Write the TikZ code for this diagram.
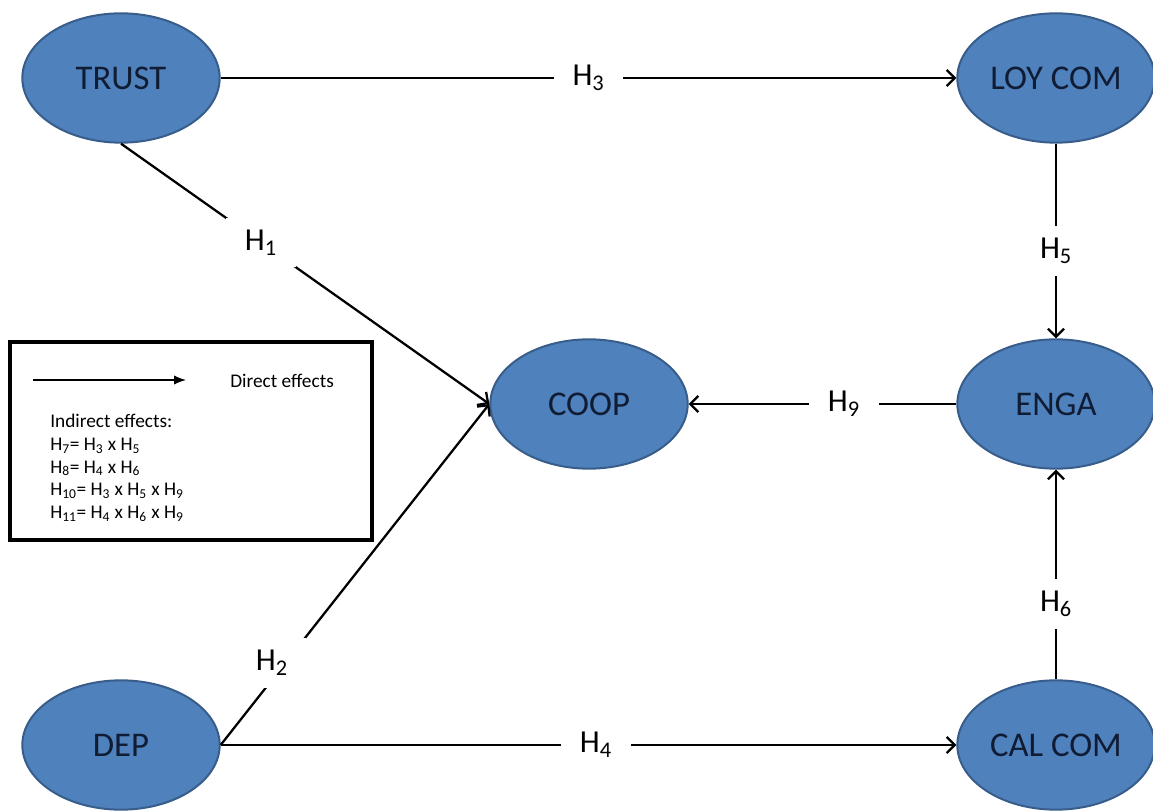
\documentclass[tikz,border=0pt]{standalone}
\usepackage{fontspec}
\setmainfont{Carlito}
\usepackage{tikz}
\usetikzlibrary{shapes.geometric}
\usetikzlibrary{arrows.meta}
\definecolor{cblue}{RGB}{79,129,189}
\definecolor{cline}{RGB}{56,93,138}
\definecolor{ctext}{RGB}{16,28,52}
\tikzstyle{construct}=[draw=cline,ellipse,fill=cblue,line width=1.5pt,minimum width=148pt,minimum height=97pt,inner sep=0pt,text=ctext,font=\fontsize{26}{30}\selectfont]
\tikzstyle{hyp}=[fill=white,inner xsep=14pt,inner ysep=9pt,font=\fontsize{24}{28}\selectfont]
\def\hH#1{H\textsubscript{#1}}

\begin{document}
\begin{tikzpicture}[x=0.75pt,y=-0.75pt,>={Straight Barb[length=6pt,width=12pt]}]
      \useasboundingbox (0,0) rectangle (1153,812);
      \node [construct] (TRUST) at (121,78) {TRUST};
      \node [construct] (LOY) at (1056,78) {LOY COM};
      \node [construct] (COOP) at (589,404) {COOP};
      \node [construct] (ENGA) at (1056,404) {ENGA};
      \node [construct] (DEP) at (121,745) {DEP};
      \node [construct] (CAL) at (1056,745) {CAL COM};

      \path [->, line width=1.7pt]
            (TRUST.east) edge node [hyp, pos=0.5] {\hH3} (LOY.west)
            (TRUST.south) edge node [hyp, pos=0.38] {\hH1} (COOP.west)
            (DEP.east) edge node [hyp, pos=0.24, xshift=-10pt] {\hH2} (COOP.west)
            (DEP.east) edge node [hyp, pos=0.51] {\hH4} (CAL.west)
            (LOY.south) edge node [hyp, pos=0.55] {\hH5} (ENGA.north)
            (CAL.north) edge node [hyp, pos=0.36] {\hH6} (ENGA.south)
            (ENGA.west) edge node [hyp, pos=0.42] {\hH9} (COOP.east);

      % legend
      \draw [line width=3pt] (10,342) rectangle (372,540);
      \coordinate (ks) at (33,380);
      \coordinate (ke) at (186,380);
      \draw [-{Latex[length=9pt,width=7pt]}, line width=1pt] (ks) -- (ke);
      \node [anchor=base west, inner sep=0pt, font=\fontsize{14.5}{17}\selectfont] (direct) at (230,388) {Direct effects};
      \node [anchor=north west, inner sep=0pt, align=left, font=\fontsize{14.5}{17}\selectfont] (indirect) at (50,414)
        {Indirect effects:\\
         \hH7= \hH3 x \hH5\\
         \hH8= \hH4 x \hH6\\
         \hH{10}= \hH3 x \hH5 x \hH9\\
         \hH{11}= \hH4 x \hH6 x \hH9};
\end{tikzpicture}
\end{document}
